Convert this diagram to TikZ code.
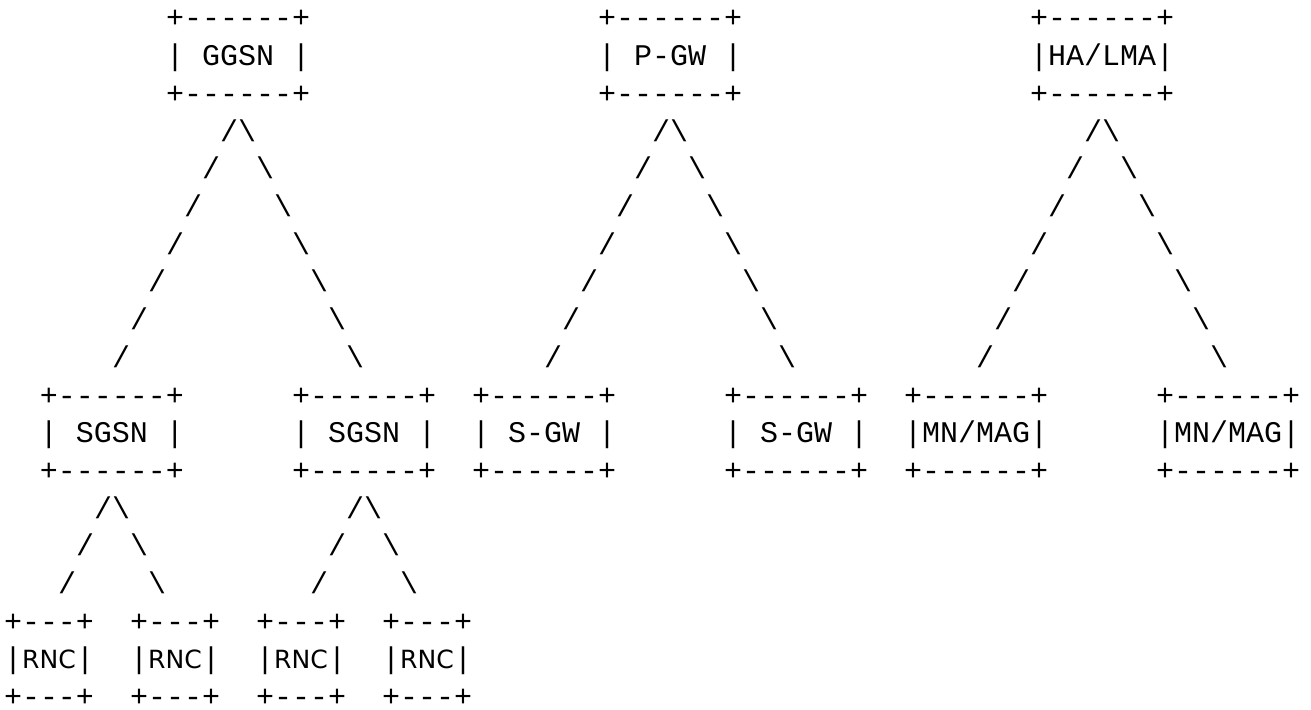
\documentclass[tikz,border=0pt]{standalone}
\usepackage{fontspec}
\setmonofont{Liberation Mono}
\newfontfamily\rncfont{DejaVu Sans}
\begin{document}
\begin{tikzpicture}[x=0.75pt,y=-0.75pt,
  asc/.style={font=\ttfamily\fontsize{22.5pt}{22.5pt}\selectfont,
    inner sep=0pt, outer sep=0pt, anchor=base west, text=black}]
\newcommand\ascii[4]{\node[asc] (#1) at ({4+18*(#2)},{28+37.7*((#3)-1)}) {#4};}
\newcommand\rnctext{\makebox[40.5pt][c]{\rncfont\fontsize{18.8pt}{18.8pt}\selectfont RNC}}
\useasboundingbox (0,0) rectangle (1311,710);
\fill[white] (0,0) rectangle (1311,710);
% top boxes
\ascii{ggsnT}{9}{1}{+------+}
\ascii{ggsn}{9}{2}{| GGSN |}
\ascii{ggsnB}{9}{3}{+------+}
\ascii{pgwT}{33}{1}{+------+}
\ascii{pgw}{33}{2}{| P-GW |}
\ascii{pgwB}{33}{3}{+------+}
\ascii{halmaT}{57}{1}{+------+}
\ascii{halma}{57}{2}{|HA/LMA|}
\ascii{halmaB}{57}{3}{+------+}
% slashes under top boxes
\foreach \k in {0,...,6} {
  \ascii{ga\k}{12-\k}{4+\k}{/}
  \ascii{gb\k}{13+\k}{4+\k}{\textbackslash}
  \ascii{pa\k}{36-\k}{4+\k}{/}
  \ascii{pb\k}{37+\k}{4+\k}{\textbackslash}
  \ascii{ha\k}{60-\k}{4+\k}{/}
  \ascii{hb\k}{61+\k}{4+\k}{\textbackslash}
}
% middle boxes
\foreach \n/\c/\t in {sgsnA/2/{| SGSN |}, sgsnB/16/{| SGSN |},
    sgwA/26/{| S-GW |}, sgwB/40/{| S-GW |},
    magA/50/{|MN/MAG|}, magB/64/{|MN/MAG|}} {
  \ascii{\n T}{\c}{11}{+------+}
  \ascii{\n}{\c}{12}{\t}
  \ascii{\n B}{\c}{13}{+------+}
}
% slashes under SGSN boxes
\foreach \k in {0,1,2} {
  \ascii{sa\k}{5-\k}{14+\k}{/}
  \ascii{sb\k}{6+\k}{14+\k}{\textbackslash}
  \ascii{sc\k}{19-\k}{14+\k}{/}
  \ascii{sd\k}{20+\k}{14+\k}{\textbackslash}
}
% RNC boxes
\foreach \i/\c in {1/0,2/7,3/14,4/21} {
  \ascii{rncT\i}{\c}{17}{+---+}
  \ascii{rnc\i}{\c}{18}{|\rnctext|}
  \ascii{rncB\i}{\c}{19}{+---+}
}
\end{tikzpicture}
\end{document}
